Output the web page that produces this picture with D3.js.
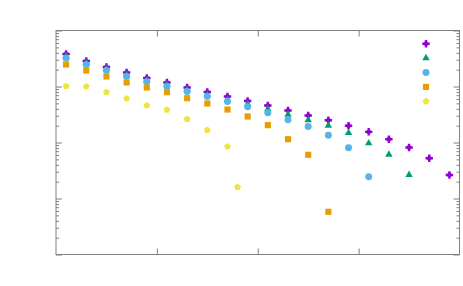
<!DOCTYPE html>
<html>
<head>
<meta charset="utf-8">
<script src="https://cdn.jsdelivr.net/npm/d3@7.9.0/dist/d3.min.js"></script>
<style>
  body { margin: 0; background: #fff; }
</style>
</head>
<body>
<svg id="chart" width="463" height="286"></svg>
<script>
// series values (log scale, one point per x step)
const xsFull = d3.range(20).map(i => i + 0.5);
const purple = [0.380, 0.285, 0.223, 0.178, 0.142, 0.118, 0.096, 0.0797, 0.0663, 0.0551,
                0.0458, 0.0373, 0.0303, 0.0250, 0.0199, 0.0155, 0.01146, 0.00814, 0.00524, 0.00263];
const green = [0.350, 0.268, 0.210, 0.164, 0.1306, 0.1086, 0.0884, 0.0720, 0.0586, 0.0487,
               0.0396, 0.0316, 0.0252, 0.0201, 0.0148, 0.00972, 0.00611, 0.00265];
const blue = [0.320, 0.244, 0.193, 0.151, 0.1213, 0.100, 0.0814, 0.0663, 0.0540, 0.0434,
              0.0339, 0.0254, 0.0193, 0.0135, 0.00804, 0.00244];
const orange = [0.247, 0.193, 0.151, 0.118, 0.096, 0.0791, 0.0618, 0.0497, 0.0388, 0.0291,
                0.0204, 0.01146, 0.00603, 0.000579];
const yellow = [0.1012, 0.100, 0.0791, 0.0611, 0.0458, 0.0384, 0.0261, 0.0166, 0.00849, 0.00160];
const yellowX = [0.5, 1.5, 2.5, 3.5, 4.5, 5.5, 6.5, 7.5, 8.5, 9.0];

const xTicks = [5, 10, 15];
const yMajor = [1e-4, 1e-3, 1e-2, 1e-1, 1];

// pentagon symbol
const symbolPentagon = {
  draw(ctx, size) {
    const r = Math.sqrt(size / 2.378);
    for (let k = 0; k < 5; k++) {
      const a = -Math.PI / 2 + k * 2 * Math.PI / 5;
      const px = r * Math.cos(a), py = r * Math.sin(a);
      if (k === 0) ctx.moveTo(px, py); else ctx.lineTo(px, py);
    }
    ctx.closePath();
  }
};

// filled diamond with short plus arms
const symbolPlusDiamond = {
  draw(ctx, size) {
    const r = Math.sqrt(size) * 0.62;
    const d = r * 0.92, a = r * 0.32;
    ctx.moveTo(0, -d); ctx.lineTo(d, 0); ctx.lineTo(0, d); ctx.lineTo(-d, 0); ctx.closePath();
    ctx.moveTo(-a, -r); ctx.lineTo(a, -r); ctx.lineTo(a, -a); ctx.lineTo(r, -a); ctx.lineTo(r, a);
    ctx.lineTo(a, a); ctx.lineTo(a, r); ctx.lineTo(-a, r); ctx.lineTo(-a, a); ctx.lineTo(-r, a);
    ctx.lineTo(-r, -a); ctx.lineTo(-a, -a); ctx.closePath();
  }
};

const series = [
  { vals: purple, xs: xsFull, color: "#9400d3", sym: symbolPlusDiamond, size: 36 },
  { vals: green, xs: xsFull, color: "#009e73", sym: d3.symbolTriangle, size: 24 },
  { vals: blue, xs: xsFull, color: "#56b4e9", sym: d3.symbolCircle, size: 38 },
  { vals: orange, xs: xsFull, color: "#e69f00", sym: d3.symbolSquare, size: 38 },
  { vals: yellow, xs: yellowX, color: "#f0e442", sym: symbolPentagon, size: 30 }
];

const svg = d3.select("#chart");
const margin = { top: 30.5, right: 3.5, bottom: 31.5, left: 56 };
const W = 463, H = 286;

const x = d3.scaleLinear().domain([0, 20]).range([margin.left, W - margin.right]);
const y = d3.scaleLog().domain([1e-4, 1]).range([H - margin.bottom, margin.top]);

const yMinor = y.ticks().filter(v => !yMajor.some(m => Math.abs(v - m) / m < 1e-6));
const axisColor = "#808080";

function styleAxis(g) {
  g.select(".domain").remove();
  g.selectAll(".tick line").attr("stroke", axisColor);
}

// y ticks, left and right
svg.append("g").attr("transform", `translate(${x(0)},0)`)
  .call(d3.axisLeft(y).tickValues(yMajor).tickSize(-6).tickFormat("")).call(styleAxis);
svg.append("g").attr("transform", `translate(${x(0)},0)`)
  .call(d3.axisLeft(y).tickValues(yMinor).tickSize(-3).tickFormat("")).call(styleAxis);
svg.append("g").attr("transform", `translate(${x(20)},0)`)
  .call(d3.axisRight(y).tickValues(yMajor).tickSize(-6).tickFormat("")).call(styleAxis);
svg.append("g").attr("transform", `translate(${x(20)},0)`)
  .call(d3.axisRight(y).tickValues(yMinor).tickSize(-3).tickFormat("")).call(styleAxis);

// x ticks, bottom and top
svg.append("g").attr("transform", `translate(0,${y(1e-4)})`)
  .call(d3.axisBottom(x).tickValues(xTicks).tickSize(-6).tickFormat("")).call(styleAxis);
svg.append("g").attr("transform", `translate(0,${y(1)})`)
  .call(d3.axisTop(x).tickValues(xTicks).tickSize(-6).tickFormat("")).call(styleAxis);

// frame
svg.append("rect")
  .attr("x", x(0)).attr("y", y(1))
  .attr("width", x(20) - x(0)).attr("height", y(1e-4) - y(1))
  .attr("fill", "none").attr("stroke", axisColor).attr("stroke-width", 1);

// points
series.forEach(s => {
  const sym = d3.symbol().type(s.sym).size(s.size);
  svg.append("g").selectAll("path")
    .data(s.vals.map((v, i) => [s.xs[i], v]))
    .enter().append("path")
    .attr("transform", d => `translate(${x(d[0])},${y(d[1])})`)
    .attr("d", sym)
    .attr("fill", s.color);
});

// key (entries have no titles)
series.forEach((s, i) => {
  svg.append("path")
    .attr("transform", `translate(426,${43.7 + i * 14.4})`)
    .attr("d", d3.symbol().type(s.sym).size(s.size)())
    .attr("fill", s.color);
});
</script>
</body>
</html>
